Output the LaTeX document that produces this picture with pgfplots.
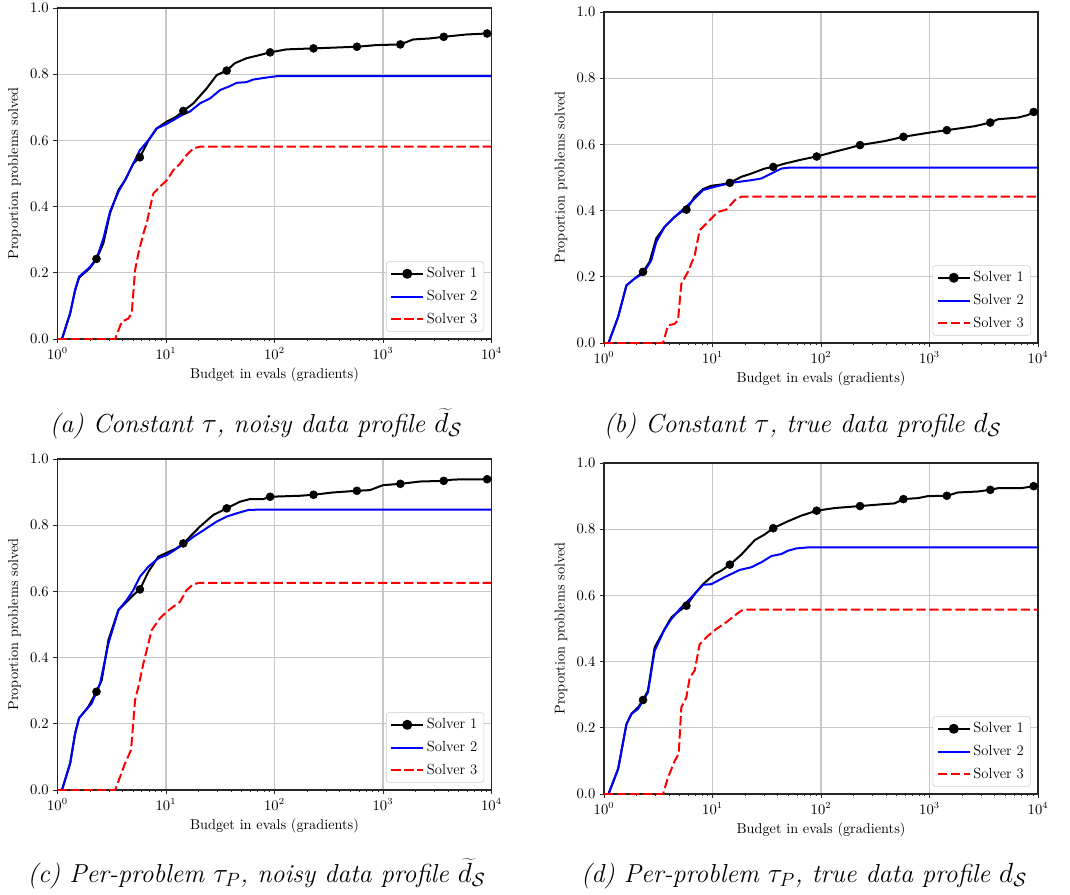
\documentclass[border=0pt]{standalone}
\usepackage{pgfplots}
\pgfplotsset{compat=1.18}

\newcommand{\tickfont}{\fontsize{10.7}{12}\selectfont}
\newcommand{\capfont}{\fontsize{19.5}{22}\selectfont\itshape}

\pgfplotsset{
  scale only axis,
  width=325.5pt, height=248.25pt,
  xmin=1, xmax=10000, ymin=0, ymax=1,
  xtick={1,10,100,1000,10000},
  minor xtick={2,3,4,5,6,7,8,9,20,30,40,50,60,70,80,90,200,300,400,500,600,700,800,900,2000,3000,4000,5000,6000,7000,8000,9000},
  ytick={0,0.2,0.4,0.6,0.8,1.0},
  grid=major,
  major grid style={color=black!22, line width=0.8pt},
  tick pos=left, tick align=outside,
  major tick length=3pt, minor tick length=1.8pt,
  tick style={black!85, line width=0.6pt},
  axis line style={black!85, line width=0.8pt},
  xlabel={Budget in evals (gradients)},
  ylabel={Proportion problems solved},
  label style={font=\tickfont},
  tick label style={font=\tickfont},
  yticklabel style={/pgf/number format/fixed, /pgf/number format/precision=1, /pgf/number format/fixed zerofill},
  legend style={at={(1,0)}, anchor=south east, xshift=-5.5pt, yshift=5.5pt,
    draw=black!20, rounded corners=2pt, font=\fontsize{11}{12}\selectfont,
    inner xsep=3pt, inner ysep=2.5pt, row sep=3.8pt},
  legend cell align=left,
  solA/.style={black, line width=1.5pt, line join=round,
    legend image code/.code={\draw[black, line width=1.5pt] (0pt,0pt) -- (24pt,0pt);
      \fill[black] (12pt,0pt) circle (3pt);}},
  solAm/.style={only marks, mark=*, mark size=3pt, black, forget plot},
  solB/.style={blue, line width=1.5pt, line join=round,
    legend image code/.code={\draw[blue, line width=1.5pt] (0pt,0pt) -- (24pt,0pt);}},
  solC/.style={red, line width=1.5pt, line join=round, dash pattern=on 7pt off 2.8pt,
    legend image code/.code={\draw[red, line width=1.5pt, dash pattern=on 7pt off 2.8pt] (0pt,0pt) -- (24pt,0pt);}},
}

\begin{document}
\begin{tikzpicture}
\useasboundingbox (0,0) rectangle (802.5pt,-670.5pt);

% (a)
\begin{semilogxaxis}[at={(43.1pt,-254.25pt)}, anchor=south west]
\addplot[solA] coordinates {(1,0) (1.1,0) (1.31,0.078) (1.455,0.148) (1.58,0.185) (2.0,0.215) (2.29,0.242) (2.65,0.289) (3.05,0.38) (3.65,0.45) (4.2,0.48) (5.0,0.53) (5.75,0.549) (6.9,0.60) (8.2,0.636) (10.2,0.657) (12.5,0.672) (14.45,0.689) (17.9,0.712) (23.7,0.757) (29.3,0.797) (36.3,0.811) (43,0.833) (55,0.848) (73,0.858) (91.2,0.866) (129,0.875) (229,0.878) (575,0.883) (870,0.888) (1445,0.890) (1900,0.905) (2700,0.908) (3631,0.913) (5880,0.920) (9120,0.923) (10000,0.923)};
\addlegendentry{Solver 1}
\addplot[solAm] coordinates {(2.29,0.242) (5.75,0.549) (14.45,0.689) (36.3,0.811) (91.2,0.866) (229,0.878) (575,0.883) (1445,0.890) (3631,0.913) (9120,0.923)};
\addplot[solB] coordinates {(1,0) (1.1,0) (1.31,0.078) (1.455,0.148) (1.58,0.188) (2.0,0.218) (2.3,0.244) (2.65,0.304) (3.05,0.385) (3.65,0.445) (4.2,0.48) (5.77,0.571) (6.9,0.601) (8.2,0.636) (10.2,0.65) (14.5,0.679) (16.6,0.687) (20.6,0.712) (25.5,0.727) (31.5,0.752) (38.9,0.764) (44.8,0.774) (55,0.776) (64,0.784) (85,0.79) (105,0.794) (10000,0.794)};
\addlegendentry{Solver 2}
\addplot[solC] coordinates {(1,0) (3.4,0) (3.91,0.052) (4.5,0.062) (4.84,0.078) (5.19,0.208) (5.57,0.259) (6.2,0.319) (6.65,0.35) (7.39,0.42) (7.66,0.44) (8.8,0.46) (10.2,0.48) (11.7,0.51) (13.5,0.53) (15.5,0.556) (17.9,0.576) (20.6,0.581) (10000,0.581)};
\addlegendentry{Solver 3}
\end{semilogxaxis}

% (b)
\begin{semilogxaxis}[at={(453pt,-257.25pt)}, anchor=south west]
\addplot[solA] coordinates {(1,0) (1.1,0) (1.35,0.079) (1.61,0.174) (1.92,0.195) (2.29,0.215) (2.63,0.245) (3.03,0.316) (3.62,0.351) (4.48,0.381) (5.16,0.396) (5.75,0.403) (6.85,0.442) (8.17,0.465) (9.75,0.475) (12.1,0.479) (14.45,0.484) (18.4,0.502) (22.8,0.512) (30.2,0.527) (36.3,0.532) (46.3,0.542) (65.9,0.554) (91.2,0.5635) (134,0.578) (177,0.588) (229,0.598) (386,0.61) (575,0.623) (968,0.635) (1445,0.643) (2610,0.655) (3631,0.666) (4280,0.676) (6540,0.681) (8090,0.689) (9120,0.698) (10000,0.698)};
\addlegendentry{Solver 1}
\addplot[solAm] coordinates {(2.29,0.215) (5.75,0.403) (14.45,0.484) (36.3,0.532) (91.2,0.5635) (229,0.598) (575,0.623) (1445,0.643) (3631,0.666) (9120,0.698)};
\addplot[solB] coordinates {(1,0) (1.1,0) (1.35,0.079) (1.61,0.174) (1.92,0.195) (2.29,0.21) (2.73,0.25) (3.03,0.305) (3.62,0.351) (4.48,0.381) (6.38,0.426) (8.17,0.462) (10.5,0.472) (14.9,0.484) (22.8,0.492) (28.2,0.497) (34.9,0.512) (43.1,0.527) (51.4,0.53) (10000,0.53)};
\addlegendentry{Solver 2}
\addplot[solC] coordinates {(1,0) (3.5,0) (3.89,0.053) (4.48,0.058) (4.81,0.069) (5.16,0.179) (5.94,0.215) (6.85,0.265) (7.62,0.341) (9.09,0.366) (11.2,0.396) (13.4,0.403) (16,0.431) (18.4,0.442) (10000,0.442)};
\addlegendentry{Solver 3}
\end{semilogxaxis}

% (c)
\begin{semilogxaxis}[at={(43.1pt,-592.5pt)}, anchor=south west]
\addplot[solA] coordinates {(1,0) (1.1,0) (1.31,0.081) (1.455,0.171) (1.58,0.217) (1.93,0.252) (2.29,0.297) (2.56,0.332) (2.95,0.453) (3.65,0.544) (4.2,0.564) (5.0,0.589) (5.75,0.606) (6.9,0.66) (8.5,0.705) (10.2,0.717) (12.5,0.73) (14.45,0.745) (20.6,0.796) (27.3,0.831) (36.3,0.851) (48,0.871) (59.5,0.879) (78.9,0.879) (91.2,0.886) (172,0.889) (229,0.892) (348,0.899) (575,0.904) (758,0.906) (1000,0.921) (1445,0.925) (2190,0.932) (3631,0.934) (4440,0.938) (9120,0.939) (10000,0.939)};
\addlegendentry{Solver 1}
\addplot[solAm] coordinates {(2.29,0.297) (5.75,0.606) (14.45,0.745) (36.3,0.851) (91.2,0.886) (229,0.892) (575,0.904) (1445,0.925) (3631,0.934) (9120,0.939)};
\addplot[solB] coordinates {(1,0) (1.1,0) (1.31,0.081) (1.455,0.171) (1.58,0.217) (2.07,0.262) (2.47,0.322) (2.95,0.443) (3.65,0.544) (4.35,0.574) (5.0,0.604) (5.77,0.645) (6.9,0.675) (8.5,0.70) (10.2,0.71) (14.5,0.742) (17.9,0.765) (23.7,0.791) (29.3,0.811) (36.3,0.826) (44.9,0.836) (57.4,0.846) (70,0.847) (10000,0.847)};
\addlegendentry{Solver 2}
\addplot[solC] coordinates {(1,0) (3.4,0) (3.78,0.04) (4.2,0.081) (4.77,0.121) (5.19,0.272) (5.57,0.312) (6.2,0.383) (7.39,0.483) (8.8,0.519) (10.2,0.539) (11.7,0.554) (13.5,0.569) (15.5,0.604) (17.9,0.622) (20.6,0.626) (10000,0.626)};
\addlegendentry{Solver 3}
\end{semilogxaxis}

% (d)
\begin{semilogxaxis}[at={(453pt,-595.5pt)}, anchor=south west]
\addplot[solA] coordinates {(1,0) (1.1,0) (1.35,0.076) (1.61,0.211) (1.79,0.242) (2.06,0.262) (2.29,0.284) (2.54,0.312) (2.93,0.443) (3.62,0.498) (4.18,0.534) (4.98,0.554) (5.75,0.569) (6.85,0.604) (8.17,0.634) (10.5,0.665) (12.1,0.675) (14.45,0.693) (18.4,0.723) (24.5,0.767) (30.2,0.784) (36.3,0.803) (49.6,0.824) (65.9,0.841) (91.2,0.856) (134,0.864) (229,0.87) (386,0.876) (477,0.878) (575,0.891) (783,0.894) (968,0.90) (1445,0.901) (1830,0.911) (2800,0.914) (3631,0.919) (4280,0.924) (7020,0.924) (9120,0.930) (10000,0.930)};
\addlegendentry{Solver 1}
\addplot[solAm] coordinates {(2.29,0.284) (5.75,0.569) (14.45,0.693) (36.3,0.803) (91.2,0.856) (229,0.87) (575,0.891) (1445,0.901) (3631,0.919) (9120,0.930)};
\addplot[solB] coordinates {(1,0) (1.1,0) (1.35,0.076) (1.61,0.211) (1.79,0.242) (2.06,0.257) (2.54,0.307) (2.93,0.433) (3.62,0.498) (4.18,0.529) (5.16,0.564) (6.38,0.594) (8.17,0.632) (9.75,0.634) (12.9,0.655) (17.8,0.677) (22.8,0.685) (28.2,0.70) (34.9,0.719) (43.1,0.725) (49.6,0.735) (59.3,0.742) (75,0.745) (10000,0.745)};
\addlegendentry{Solver 2}
\addplot[solC] coordinates {(1,0) (3.5,0) (3.89,0.05) (4.48,0.10) (4.88,0.121) (5.16,0.262) (5.74,0.292) (6.17,0.352) (6.85,0.373) (7.62,0.453) (9.09,0.478) (10.8,0.498) (13.4,0.519) (16,0.539) (18.4,0.554) (19.8,0.557) (10000,0.557)};
\addlegendentry{Solver 3}
\end{semilogxaxis}

\node[anchor=base, font=\capfont] at (192pt,-324pt) {(a) Constant $\tau$, noisy data profile $\widetilde{d}_{\mathcal{S}}$};
\node[anchor=base, font=\capfont] at (602pt,-324pt) {(b) Constant $\tau$, true data profile $d_{\mathcal{S}}$};
\node[anchor=base, font=\capfont] at (192.5pt,-661.5pt) {(c) Per-problem $\tau_P$, noisy data profile $\widetilde{d}_{\mathcal{S}}$};
\node[anchor=base, font=\capfont] at (603pt,-661.5pt) {(d) Per-problem $\tau_P$, true data profile $d_{\mathcal{S}}$};
\end{tikzpicture}
\end{document}
